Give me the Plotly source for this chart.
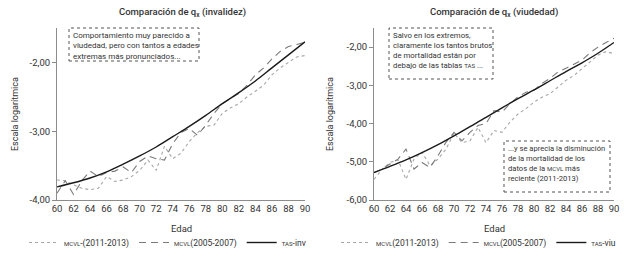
import plotly.graph_objects as go

# ---------------- data ----------------
ages = list(range(60, 91))
tas_ages = list(range(60, 91, 2))

# Left panel: invalidez (log scale values)
inv_mcvl_2011 = [-3.71, -3.72, -3.78, -3.83, -3.85, -3.83, -3.66, -3.73, -3.71, -3.66,
                 -3.57, -3.42, -3.57, -3.22, -3.40, -3.32, -3.15, -3.02, -2.93, -2.91,
                 -2.74, -2.66, -2.60, -2.50, -2.42, -2.33, -2.18, -2.08, -2.00, -1.92, -1.90]
inv_mcvl_2005 = [-3.90, -3.72, -3.92, -3.72, -3.58, -3.66, -3.60, -3.58, -3.52, -3.60,
                 -3.44, -3.36, -3.40, -3.42, -3.18, -3.02, -2.96, -3.06, -2.91, -2.74,
                 -2.60, -2.53, -2.45, -2.33, -2.18, -2.08, -1.95, -1.84, -1.77, -1.74, -1.71]
inv_tas = [-3.81, -3.75, -3.68, -3.59, -3.48, -3.36, -3.23, -3.08, -2.93, -2.77,
           -2.60, -2.44, -2.27, -2.08, -1.89, -1.70]

# Right panel: viudedad (log scale values)
viu_mcvl_2011 = [-5.46, -5.20, -5.02, -4.95, -5.46, -4.93, -4.75, -5.10, -4.93, -4.67,
                 -4.25, -4.50, -4.45, -4.10, -4.50, -4.18, -4.23, -3.96, -3.75, -3.61,
                 -3.44, -3.31, -3.22, -3.04, -2.87, -2.74, -2.56, -2.39, -2.21, -2.12, -2.17]
viu_mcvl_2005 = [-5.28, -5.19, -5.06, -4.93, -4.67, -5.19, -5.02, -5.15, -4.84, -4.49,
                 -4.23, -4.45, -4.23, -4.05, -4.00, -3.66, -3.70, -3.48, -3.30, -3.18,
                 -3.13, -2.95, -2.82, -2.65, -2.55, -2.45, -2.34, -2.15, -2.00, -1.88, -1.77]
viu_tas = [-5.28, -5.12, -4.95, -4.76, -4.55, -4.32, -4.08, -3.84, -3.59, -3.35,
           -3.12, -2.88, -2.64, -2.41, -2.16, -1.88]

x_tickvals = list(range(60, 91, 2))
x_ticktext = [str(v) for v in x_tickvals]
inv_y_tickvals = [-4, -3, -2]
inv_y_ticktext = ["-4,00", "-3,00", "-2,00"]
viu_y_tickvals = [-6, -5, -4, -3, -2]
viu_y_ticktext = ["-6,00", "-5,00", "-4,00", "-3,00", "-2,00"]

FONT = "Roboto"
TXT = "#333333"
SC = "<span style='font-size:6px'>{}</span>"

W, H = 624, 256


def px(x):
    return x / W


def py(y):
    return 1 - y / H


fig = go.Figure()

styles = dict(
    d2011=dict(color="#a8a8a8", width=1.1, dash="dot"),
    d2005=dict(color="#7a7a7a", width=1.1, dash="7px,5px"),
    tas=dict(color="#1a1a1a", width=1.4, dash="solid"),
)

# Left traces
fig.add_trace(go.Scatter(x=ages, y=inv_mcvl_2011, mode="lines", line=styles["d2011"],
                         name=SC.format("MCVL") + "-(2011-2013)", xaxis="x", yaxis="y",
                         legend="legend"))
fig.add_trace(go.Scatter(x=ages, y=inv_mcvl_2005, mode="lines", line=styles["d2005"],
                         name=SC.format("MCVL") + "(2005-2007)", xaxis="x", yaxis="y",
                         legend="legend"))
fig.add_trace(go.Scatter(x=tas_ages, y=inv_tas, mode="lines", line=styles["tas"],
                         line_shape="spline",
                         name=SC.format("TAS") + "-inv", xaxis="x", yaxis="y",
                         legend="legend"))
# Right traces
fig.add_trace(go.Scatter(x=ages, y=viu_mcvl_2011, mode="lines", line=styles["d2011"],
                         name=SC.format("MCVL") + "(2011-2013)", xaxis="x2", yaxis="y2",
                         legend="legend2"))
fig.add_trace(go.Scatter(x=ages, y=viu_mcvl_2005, mode="lines", line=styles["d2005"],
                         name=SC.format("MCVL") + "(2005-2007)", xaxis="x2", yaxis="y2",
                         legend="legend2"))
fig.add_trace(go.Scatter(x=tas_ages, y=viu_tas, mode="lines", line=styles["tas"],
                         line_shape="spline",
                         name=SC.format("TAS") + "-viu", xaxis="x2", yaxis="y2",
                         legend="legend2"))

ydom = [py(200), py(28)]
axis_common = dict(showgrid=False, zeroline=False, showline=True, linecolor="#8c8c8c",
                   linewidth=1, tickfont=dict(family=FONT, size=9.5, color=TXT),
                   fixedrange=True, automargin=False)

leg_common = dict(orientation="h", xanchor="left", yanchor="top",
                  font=dict(family=FONT, size=8.5, color=TXT), bgcolor="rgba(0,0,0,0)",
                  itemwidth=30, tracegroupgap=0, itemclick=False)

fig.update_layout(
    width=W, height=H,
    margin=dict(l=0, r=0, t=0, b=0, autoexpand=False),
    paper_bgcolor="white", plot_bgcolor="white",
    font=dict(family=FONT, color=TXT),
    xaxis=dict(domain=[px(57), px(305)], range=[60, 90], anchor="y", tickangle=0,
               tickvals=x_tickvals, ticktext=x_ticktext, ticks="", **axis_common),
    yaxis=dict(domain=ydom, range=[-4, -1.5], anchor="x",
               tickvals=inv_y_tickvals, ticktext=inv_y_ticktext,
               ticks="outside", ticklen=4, tickcolor="#8c8c8c", **axis_common),
    xaxis2=dict(domain=[px(374), px(614)], range=[60, 90], anchor="y2", tickangle=0,
                tickvals=x_tickvals, ticktext=x_ticktext, ticks="", **axis_common),
    yaxis2=dict(domain=ydom, range=[-6, -1.5], anchor="x2",
                tickvals=viu_y_tickvals, ticktext=viu_y_ticktext,
                ticks="outside", ticklen=4, tickcolor="#8c8c8c", **axis_common),
    legend=dict(x=px(24), y=py(228), **leg_common),
    legend2=dict(x=px(336), y=py(228), **leg_common),
    showlegend=True,
)

ann = []
# titles
ann.append(dict(text="Comparación de q<sub>x</sub> (invalidez)", x=px(182), y=py(12),
                font=dict(size=9.5, family=FONT, color=TXT, weight=500)))
ann.append(dict(text="Comparación de q<sub>x</sub> (viudedad)", x=px(494), y=py(12),
                font=dict(size=9.5, family=FONT, color=TXT, weight=500)))
# axis titles
for xc in (181, 494):
    ann.append(dict(text="Edad", x=px(xc), y=py(228), font=dict(size=9.5, family=FONT, color=TXT)))
for xc in (15, 330):
    ann.append(dict(text="Escala logarítmica", x=px(xc), y=py(114), textangle=-90,
                    font=dict(size=9, family=FONT, color=TXT)))
for a in ann:
    a.update(xref="paper", yref="paper", showarrow=False, xanchor="center", yanchor="middle")

# text boxes
boxes = [
    (69, 28, 199, 61, 8, "Comportamiento muy parecido a<br>viudedad, pero con tantos a edades<br>extremas más pronunciados..."),
    (389, 28, 493, 79, 7.8, "Salvo en los extremos,<br>claramente los tantos brutos<br>de mortalidad están por<br>debajo de las tablas " + SC.format("TAS") + " ..."),
    (504, 141, 610, 192, 7.6, "...y se aprecia la disminución<br>de la mortalidad de los<br>datos de la " + SC.format("MCVL") + " más<br>reciente (2011-2013)"),
]
shapes = []
for (x0, y0, x1, y1, fs, txt) in boxes:
    shapes.append(dict(type="rect", xref="paper", yref="paper", x0=px(x0), x1=px(x1),
                       y0=py(y1), y1=py(y0), line=dict(color="#555555", width=1, dash="dot"),
                       fillcolor="white", layer="above"))
    ann.append(dict(text=txt, x=px(x0 + 2), y=py(y0 + 1), xref="paper", yref="paper",
                    xanchor="left", yanchor="top", align="left", showarrow=False,
                    font=dict(size=fs, family=FONT, color=TXT)))

fig.update_layout(annotations=ann, shapes=shapes)

fig.write_html("out.html", config={"displayModeBar": False},
               post_script="document.body.style.margin='0px';document.body.style.overflow='hidden';")
